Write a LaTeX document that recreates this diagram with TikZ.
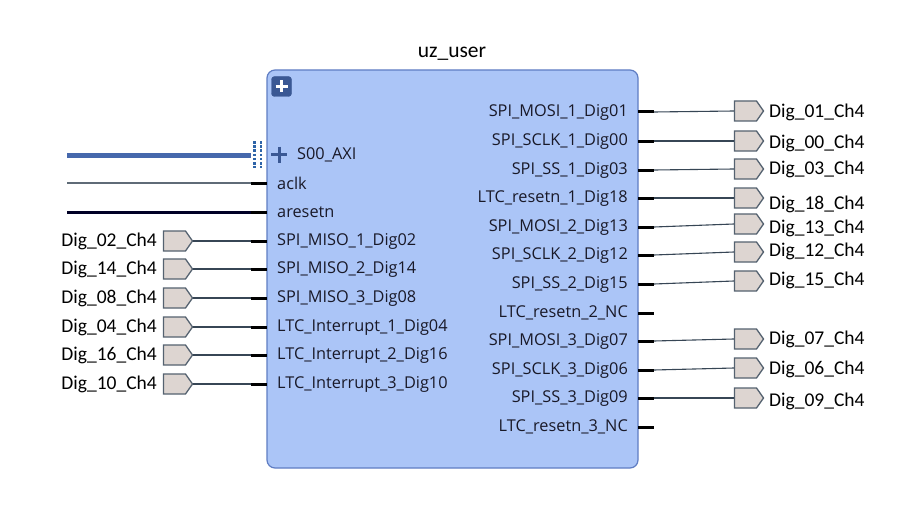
\documentclass[tikz,border=0pt]{standalone}
\usepackage{fontspec}
\setmainfont{Carlito}
\newfontfamily\pinfont{Open Sans}
\usetikzlibrary{shapes.symbols}
\definecolor{blkfill}{RGB}{171,197,247}
\definecolor{blkdraw}{RGB}{95,125,195}
\definecolor{iconblue}{RGB}{58,88,148}
\definecolor{portfill}{RGB}{221,213,209}
\definecolor{portdraw}{RGB}{85,98,112}
\definecolor{wirecol}{RGB}{55,70,85}
\definecolor{buscol}{RGB}{70,104,172}
\definecolor{busdot}{RGB}{46,100,168}
\definecolor{pintext}{RGB}{25,25,40}
\tikzset{
  blockbox/.style={draw=blkdraw, fill=blkfill, line width=1.2pt, rounded corners=8pt, inner sep=0pt},
  plusicon/.style={draw=iconblue, fill=iconblue, rounded corners=3pt, minimum size=20pt, inner sep=0pt},
  portbox/.style={shape=signal, signal to=east, signal pointer angle=110, draw=portdraw, fill=portfill, line width=1.3pt, minimum width=29pt, minimum height=20pt, inner sep=0pt},
  labtext/.style={inner sep=0pt, font=\fontsize{19.5}{20}\selectfont},
  pintxt/.style={inner sep=0pt, text=pintext, font=\pinfont\fontsize{16.3}{18}\selectfont},
  stub/.style={draw=black, line width=3pt},
  wire/.style={draw=wirecol, line width=1.1pt},
  bus/.style={draw=buscol, line width=5pt},
  busdots/.style={draw=busdot, line width=2.2pt, dash pattern=on 2.6pt off 1.6pt},
}
\begin{document}
\begin{tikzpicture}[x=1pt,y=-1pt]
\useasboundingbox (0,0) rectangle (920,524);
\fill[white] (0,0) rectangle (920,524);
% block
\node[blockbox, minimum width=371pt, minimum height=398pt] (blk) at (452.5,269) {};
\node[labtext, font=\fontsize{21.5}{22}\selectfont] (title) at (452,54) {uz\_user};
\node[plusicon] (icon) at (281.5,86.5) {};
\draw[white, line width=2.4pt] (275.5,86.5) -- (287.5,86.5) (281.5,80.5) -- (281.5,92.5);
% S00_AXI bus
\coordinate (axiL) at (67,155);
\coordinate (axiR) at (251,155);
\draw[bus] (axiL) -- (axiR);
\coordinate (d1t) at (254.5,141); \coordinate (d1b) at (254.5,168);
\coordinate (d2t) at (261,141); \coordinate (d2b) at (261,168);
\draw[busdots] (d1t) -- (d1b);
\draw[busdots] (d2t) -- (d2b);
\draw[iconblue, line width=3pt] (271,154.5) -- (287,154.5) (279,146.5) -- (279,162.5);
\node[pintxt, anchor=west] (paxi) at (297,155) {S00\_AXI};
% aclk / aresetn
\coordinate (clkL) at (67,183); \coordinate (clkS) at (251,183); \coordinate (clkE) at (267,183);
\draw[draw=wirecol!80, line width=1.3pt] (clkL) -- (clkS);
\draw[stub] (clkS) -- (clkE);
\node[pintxt, anchor=west] (pclk) at (277,183) {aclk};
\coordinate (rstL) at (67,212); \coordinate (rstS) at (251,212); \coordinate (rstE) at (267,212);
\draw[draw=black!85!blue, line width=3pt] (rstL) -- (rstS);
\draw[stub] (rstS) -- (rstE);
\node[pintxt, anchor=west] (prst) at (277,212) {aresetn};
% left ports
\foreach \n/\p/\y in {02/SPI\_MISO\_1\_Dig02/241, 14/SPI\_MISO\_2\_Dig14/269, 08/SPI\_MISO\_3\_Dig08/298, 04/LTC\_Interrupt\_1\_Dig04/327, 16/LTC\_Interrupt\_2\_Dig16/355, 10/LTC\_Interrupt\_3\_Dig10/384}{
  \node[portbox] (lp\n) at (174.5,\y) {};
  \node[labtext, anchor=east] (ll\n) at (157,\y) {Dig\_\n\_Ch4};
  \coordinate (ls\n) at (251,\y);
  \coordinate (le\n) at (267,\y);
  \draw[wire] (lp\n.east) -- (ls\n);
  \draw[stub] (ls\n) -- (le\n);
  \node[pintxt, anchor=west] (lpin\n) at (277,\y) {\p};
}
% right ports
\foreach \n/\p/\y/\py/\ly in {01/SPI\_MOSI\_1\_Dig01/112/111/112, 00/SPI\_SCLK\_1\_Dig00/141/141/143, 03/SPI\_SS\_1\_Dig03/170/169/169, 18/LTC\_resetn\_1\_Dig18/198/198/204, 13/SPI\_MOSI\_2\_Dig13/227/224/228, 12/SPI\_SCLK\_2\_Dig12/255/252/251, 15/SPI\_SS\_2\_Dig15/284/281/280, 07/SPI\_MOSI\_3\_Dig07/341/339/339, 06/SPI\_SCLK\_3\_Dig06/370/368/369, 09/SPI\_SS\_3\_Dig09/398/398/401}{
  \node[portbox] (rp\n) at (745.5,\py) {};
  \node[labtext, anchor=west] (rl\n) at (769,\ly) {Dig\_\n\_Ch4};
  \coordinate (rs\n) at (638,\y);
  \coordinate (re\n) at (654,\y);
  \draw[stub] (rs\n) -- (re\n);
  \draw[wire] (re\n) -- (rp\n.west);
  \node[pintxt, anchor=east] (rpin\n) at (628,\y) {\p};
}
% NC pins
\foreach \n/\p/\y in {a/LTC\_resetn\_2\_NC/313, b/LTC\_resetn\_3\_NC/427}{
  \coordinate (ncs\n) at (638,\y);
  \coordinate (nce\n) at (654,\y);
  \draw[stub] (ncs\n) -- (nce\n);
  \node[pintxt, anchor=east] (ncpin\n) at (628,\y) {\p};
}
\end{tikzpicture}
\end{document}
